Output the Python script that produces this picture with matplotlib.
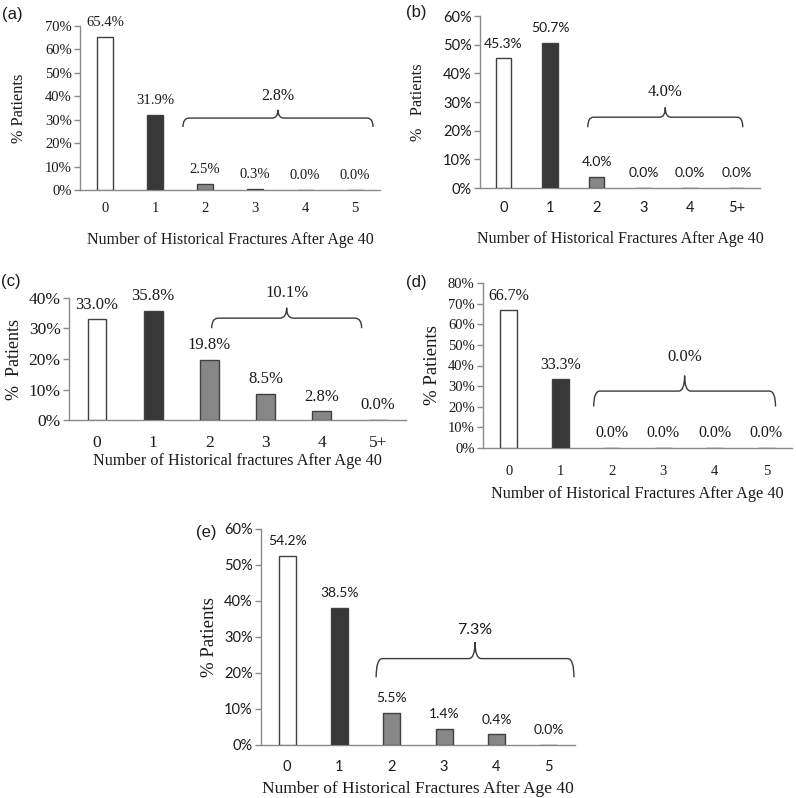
import matplotlib
matplotlib.use("Agg")
import matplotlib.pyplot as plt
from matplotlib.path import Path
from matplotlib.patches import PathPatch
from matplotlib.ticker import FuncFormatter

# ---------------- data ----------------
a_cats = ['0', '1', '2', '3', '4', '5']
a_vals = [65.4, 31.9, 2.5, 0.3, 0.0, 0.0]
a_labels = ['65.4%', '31.9%', '2.5%', '0.3%', '0.0%', '0.0%']
a_group = '2.8%'

b_cats = ['0', '1', '2', '3', '4', '5+']
b_vals = [45.3, 50.7, 4.0, 0.0, 0.0, 0.0]
b_labels = ['45.3%', '50.7%', '4.0%', '0.0%', '0.0%', '0.0%']
b_group = '4.0%'

c_cats = ['0', '1', '2', '3', '4', '5+']
c_vals = [33.0, 35.8, 19.8, 8.5, 2.8, 0.0]
c_labels = ['33.0%', '35.8%', '19.8%', '8.5%', '2.8%', '0.0%']
c_group = '10.1%'

d_cats = ['0', '1', '2', '3', '4', '5']
d_vals = [66.7, 33.3, 0.0, 0.0, 0.0, 0.0]
d_labels = ['66.7%', '33.3%', '0.0%', '0.0%', '0.0%', '0.0%']
d_group = '0.0%'

e_cats = ['0', '1', '2', '3', '4', '5']
e_vals = [52.5, 38.1, 9.0, 4.5, 3.0, 0.0]
e_labels = ['54.2%', '38.5%', '5.5%', '1.4%', '0.4%', '0.0%']
e_group = '7.3%'

SERIF = 'Liberation Serif'
SANS = 'Lato'
ARIAL = 'Liberation Sans'
TXT = '#1a1a1a'

W, H = 796, 798
fig = plt.figure(figsize=(W / 100, H / 100), dpi=100)


def make_ax(l, r, t, b):
    return fig.add_axes([l / W, 1 - b / H, (r - l) / W, (b - t) / H])


def brace(ax, x0, x1, y, drop, tip, r=0.12):
    xm = (x0 + x1) / 2
    verts = [(x0, y - drop), (x0, y), (x0 + r, y),
             (xm - r, y), (xm, y), (xm, y + tip),
             (xm, y), (xm + r, y),
             (x1 - r, y), (x1, y), (x1, y - drop)]
    codes = [Path.MOVETO, Path.CURVE3, Path.CURVE3,
             Path.LINETO, Path.CURVE3, Path.CURVE3,
             Path.CURVE3, Path.CURVE3,
             Path.LINETO, Path.CURVE3, Path.CURVE3]
    ax.add_patch(PathPatch(Path(verts, codes), fill=False, lw=1.0,
                           edgecolor='#3a3a3a', clip_on=False))


def panel(ax, cats, vals, labels, ymax, fonts, sizes, group, br,
          ylab, xlab, pads):
    tickfont, labfont, grpfont = fonts
    s_tick, s_val, s_grp, s_ylab, s_xlab = sizes
    xtickpad, ylabpad, xlabpad = pads
    x = list(range(len(cats)))
    colors = ['white', '#383838'] + ['#878787'] * (len(cats) - 2)
    ax.bar(x, vals, width=0.33, color=colors, edgecolor='#404040',
           linewidth=1.0, zorder=3)
    for xi, v, lab in zip(x, vals, labels):
        ax.annotate(lab, (xi, v), xytext=(0, 10.5), textcoords='offset points',
                    ha='center', va='center', fontsize=s_val, family=labfont,
                    color=TXT)
    ax.set_xlim(-0.5, len(cats) - 0.5)
    ax.set_ylim(0, ymax)
    ax.set_yticks(range(0, ymax + 1, 10))
    ax.yaxis.set_major_formatter(FuncFormatter(lambda v, p: f'{int(v)}%'))
    ax.set_xticks(x)
    ax.set_xticklabels(cats)
    for sp in ['top', 'right']:
        ax.spines[sp].set_visible(False)
    for sp in ['left', 'bottom']:
        ax.spines[sp].set_color('#8a8a8a')
        ax.spines[sp].set_linewidth(1.0)
    ax.tick_params(axis='y', length=4, color='#8a8a8a', width=1.0,
                   labelsize=s_tick, pad=2)
    ax.tick_params(axis='x', length=0, labelsize=s_tick, pad=xtickpad)
    for t in ax.get_xticklabels() + ax.get_yticklabels():
        t.set_family(tickfont)
        t.set_color(TXT)
    bx0, bx1, by, bdrop, btip, gy = br
    brace(ax, bx0, bx1, by, bdrop, btip)
    ax.text((bx0 + bx1) / 2, gy, group, ha='center', va='center',
            fontsize=s_grp, family=grpfont, color=TXT)
    ax.set_ylabel(ylab, family=SERIF, fontsize=s_ylab, color=TXT,
                  labelpad=ylabpad)
    ax.set_xlabel(xlab, family=SERIF, fontsize=s_xlab, color=TXT,
                  labelpad=xlabpad)


xl = 'Number of Historical Fractures After Age 40'
xl_c = 'Number of Historical fractures After Age 40'

ax_a = make_ax(80, 380, 26, 190)
panel(ax_a, a_cats, a_vals, a_labels, 70, (SERIF, SERIF, SERIF),
      (10.5, 10.5, 11.5, 11.7, 11.5), a_group,
      (1.56, 5.36, 30.7, 3.8, 3.5, 40), '% Patients', xl, (9, 13, 12))

ax_b = make_ax(480, 760, 16, 188)
panel(ax_b, b_cats, b_vals, b_labels, 60, (SANS, SANS, SERIF),
      (10.5, 10, 12, 11.7, 11.5), b_group,
      (1.81, 5.13, 24.7, 3.5, 3.4, 33.5), '%   Patients', xl, (9, 12, 12))

ax_c = make_ax(69, 406, 298, 420)
panel(ax_c, c_cats, c_vals, c_labels, 40, (SERIF, SERIF, SERIF),
      (12.5, 12, 12, 13, 11.7), c_group,
      (2.04, 4.71, 33.4, 3.3, 3.4, 41.5), '%  Patients', xl_c, (11, 4, 1))

ax_d = make_ax(483, 792, 283, 448)
panel(ax_d, d_cats, d_vals, d_labels, 80, (SERIF, SERIF, SERIF),
      (10.5, 11.5, 12, 13.5, 11.7), d_group,
      (1.65, 5.18, 27.6, 7.5, 7.5, 44), '% Patients', xl, (12, 5, 6))

ax_e = make_ax(261, 575, 529, 745)
panel(ax_e, e_cats, e_vals, e_labels, 60, (SANS, SANS, SANS),
      (10.5, 10, 11.5, 13.5, 12.5), e_group,
      (1.7, 5.48, 24, 5.2, 4.6, 32), '% Patients', xl, (11, 4, 5))

# panel letters
for txt, px, py in [('(a)', 12, 14), ('(b)', 416, 13), ('(c)', 11, 282),
                    ('(d)', 416, 283), ('(e)', 206, 532)]:
    fig.text(px / W, 1 - py / H, txt, ha='center', va='center',
             fontsize=12, family=ARIAL, color=TXT)

fig.savefig('out.png', dpi=100, facecolor='white')
